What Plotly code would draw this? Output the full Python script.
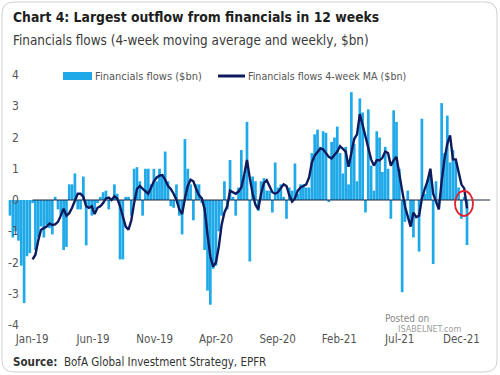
import pandas as pd
import plotly.graph_objects as go

# ---------------- data ----------------
flows = [
    -0.5, -1.2, -1.0, -1.3, -2.1, -3.3, -1.8, -1.7, -0.1, -1.6,
    -1.2, -0.85, -1.2, -0.8, -0.9, -1.1, 0.1, -0.3, -0.5, -1.6,
    -1.5, 0.5, 0.5, 0.85, -0.3, -0.3, 0.75, -1.45, -0.2, -0.5,
    -0.3, -0.1, 0.1, 0.25, 0.3, -0.3, 0.0, 0.5, 0.2, -1.9,
    -1.9, 0.1, 0.1, -0.5, 1.0, 1.05, 0.6, -0.5, 1.0, 1.0,
    0.5, 1.0, 0.6, 1.0, 0.8, 1.55, 0.6, -0.2, -0.25, 0.5,
    -0.5, -1.1, 1.95, 1.0, 0.5, -0.65, 0.5, 0.5, -0.1, -1.6,
    -2.9, -3.35, -2.2, -2.1, -1.0, -0.5, 0.6, -0.3, 1.28, 0.1,
    -0.5, 0.4, 1.6, 0.8, 2.5, -1.97, 0.75, 0.6, -0.35, 0.6,
    0.7, 0.3, 0.3, -0.4, 1.2, 0.4, 0.5, 0.1, -0.6, 0.4,
    0.3, 1.17, 0.2, 0.5, 0.5, 0.4, 0.4, 1.5, 2.1, 2.25,
    1.7, 2.2, 2.15, -0.05, 1.86, 2.0, 2.35, 1.5, 0.85, 1.7,
    0.5, 3.45, 1.8, 0.6, 3.25, 2.8, -0.4, 2.9, 1.1, 0.3,
    2.2, 2.0, 0.9, 1.7, 1.0, -0.6, 2.87, 2.5, 1.0, -2.95,
    -0.7, 0.3, -0.75, -1.2, 0.0, -1.65, 2.6, 0.2, 0.65, 0.95,
    -2.05, 0.6, -0.3, 3.1, 1.5, 2.7, 1.2, 1.6, 1.3, 0.4,
    -0.6, 0.1, -1.44,
]

ma_4wk = [None] * 8 + [
    -1.9, -1.75, -1.3, -0.95, -0.9, -0.85, -0.75, -0.8, -0.78, -0.7,
    -0.5, -0.28, -0.5, -0.42, -0.25, 0.0, 0.2, 0.2, 0.1, -0.2,
    -0.25, -0.2, -0.45, -0.25, -0.2, -0.1, 0.05, 0.08, 0.0, 0.12,
    0.05, -0.2, -0.5, -0.85, -0.95, -0.65, -0.1, 0.35, 0.45, 0.35,
    0.28, 0.2, 0.4, 0.6, 0.72, 0.78, 0.8, 0.65, 0.45, 0.35,
    0.2, 0.0, -0.3, -0.45, 0.05, 0.45, 0.65, 0.6, 0.35, 0.15,
    0.05, -0.3, -1.1, -1.8, -2.13, -2.0, -1.5, -0.8, -0.4, -0.2,
    0.3, 0.25, 0.2, 0.27, 0.4, 0.8, 1.28, 0.7, 0.2, -0.15,
    -0.3, 0.2, 0.55, 0.63, 0.45, 0.25, 0.2, 0.25, 0.38, 0.5,
    0.45, 0.15, -0.05, 0.05, 0.3, 0.4, 0.45, 0.5, 0.72, 1.2,
    1.42, 1.55, 1.65, 1.62, 1.5, 1.38, 1.33, 1.45, 1.55, 1.72,
    1.65, 1.55, 1.06, 1.5, 1.95, 2.1, 2.75, 2.4, 2.0, 1.6,
    1.3, 1.1, 1.27, 1.27, 1.35, 1.55, 1.5, 1.1, 1.27, 1.38,
    0.9, 0.3, -0.2, -0.55, -0.85, -0.4, -0.55, -0.5, 0.05, 0.35,
    0.6, 1.0, 0.2, -0.05, -0.3, 0.6, 1.3, 1.8, 2.07, 1.3,
    1.3, 0.9, 0.5, 0.37, -0.27,
]

dates = pd.date_range("2018-11-07", periods=len(flows), freq="7D")

x_tick_dates = ["2019-01-01", "2019-06-01", "2019-11-01", "2020-04-01",
                "2020-09-01", "2021-02-01", "2021-07-01", "2021-12-01"]
x_tick_labels = ["Jan-19", "Jun-19", "Nov-19", "Apr-20",
                 "Sep-20", "Feb-21", "Jul-21", "Dec-21"]
y_ticks = [4, 3, 2, 1, 0, -1, -2, -3, -4]

# ---------------- layout helpers ----------------
W, H = 500, 375
L, R, T, B = 8, 10, 75, 50
X_RANGE = ["2018-11-02", "2022-02-10"]

def px(x):
    return (x - L) / (W - L - R)

def py(y):
    return (H - B - y) / (H - T - B)

FONT = "'DejaVu Sans Condensed', 'Liberation Sans Narrow', sans-serif"
BAR_COLOR = "#1FA9E8"
LINE_COLOR = "#0D1B5E"
GREY = "#555555"

fig = go.Figure()
fig.add_bar(x=dates, y=flows, marker_color=BAR_COLOR, marker_line_width=0,
            name="Financials flows ($bn)")
fig.add_scatter(x=dates, y=ma_4wk, mode="lines",
                line=dict(color=LINE_COLOR, width=2.4),
                name="Financials flows 4-week MA ($bn)")

shapes = []
# zero line
shapes.append(dict(type="line", xref="x", yref="y", x0=dates[8], x1=X_RANGE[1],
                   y0=0, y1=0, line=dict(color="#1B2444", width=1.2), layer="above"))
# red circle highlight
shapes.append(dict(type="circle", xref="paper", yref="paper",
                   x0=px(455), x1=px(473), y0=py(216), y1=py(191),
                   line=dict(color="#E3202B", width=1.8), layer="above"))
# legend marks
shapes.append(dict(type="rect", xref="paper", yref="paper",
                   x0=px(63), x1=px(92), y0=py(80), y1=py(72),
                   fillcolor=BAR_COLOR, line=dict(width=0), layer="above"))
shapes.append(dict(type="line", xref="paper", yref="paper",
                   x0=px(218), x1=px(245), y0=py(76), y1=py(76),
                   line=dict(color=LINE_COLOR, width=3), layer="above"))
# rounded frame
r = 12
x0f, x1f, y0f, y1f = 2, 497, 2, 372
pts = [
    ("M", x0f + r, y0f), ("L", x1f - r, y0f), ("Q", x1f, y0f, x1f, y0f + r),
    ("L", x1f, y1f - r), ("Q", x1f, y1f, x1f - r, y1f), ("L", x0f + r, y1f),
    ("Q", x0f, y1f, x0f, y1f - r), ("L", x0f, y0f + r), ("Q", x0f, y0f, x0f + r, y0f),
]
path = ""
for p in pts:
    cmd = p[0]
    coords = p[1:]
    seg = []
    for i in range(0, len(coords), 2):
        seg.append(f"{px(coords[i]):.5f},{py(coords[i+1]):.5f}")
    path += cmd + " ".join(seg) + " "
path += "Z"
shapes.append(dict(type="path", xref="paper", yref="paper", path=path,
                   line=dict(color="#D0D0D0", width=1), layer="below"))

annotations = []
for v in y_ticks:
    annotations.append(dict(text=str(v), xref="paper", yref="y", x=px(21), y=v,
                            xanchor="right", yanchor="middle", showarrow=False,
                            font=dict(family=FONT, size=12, color=GREY)))
annotations += [
    dict(text="<b>Chart 4: Largest outflow from financials in 12 weeks</b>",
         xref="paper", yref="paper", x=px(11), y=py(17), xanchor="left", yanchor="middle",
         showarrow=False, font=dict(family=FONT, size=13.8, color="#1E1E1E")),
    dict(text="Financials flows (4-week moving average and weekly, $bn)",
         xref="paper", yref="paper", x=px(11), y=py(40), xanchor="left", yanchor="middle",
         showarrow=False, font=dict(family=FONT, size=13.4, color="#3A3A3A")),
    dict(text="Financials flows ($bn)", xref="paper", yref="paper", x=px(93), y=py(76),
         xanchor="left", yanchor="middle", showarrow=False,
         font=dict(family=FONT, size=11, color=GREY)),
    dict(text="Financials flows 4-week MA ($bn)", xref="paper", yref="paper",
         x=px(246), y=py(76), xanchor="left", yanchor="middle", showarrow=False,
         font=dict(family=FONT, size=10.6, color=GREY)),
    dict(text="<b>Source:</b>  BofA Global Investment Strategy, EPFR",
         xref="paper", yref="paper", x=px(11), y=py(362), xanchor="left", yanchor="middle",
         showarrow=False, font=dict(family=FONT, size=11.5, color="#333333")),
    dict(text="Posted on", xref="paper", yref="paper", x=px(383), y=py(318),
         xanchor="left", yanchor="middle", showarrow=False,
         font=dict(family=FONT, size=10, color="#8A8A8A")),
    dict(text="ISABELNET.com", xref="paper", yref="paper", x=px(396), y=py(329),
         xanchor="left", yanchor="middle", showarrow=False,
         font=dict(family=FONT, size=9, color="#A0A0A0")),
]

fig.update_layout(
    width=W, height=H,
    margin=dict(l=L, r=R, t=T, b=B),
    paper_bgcolor="white", plot_bgcolor="white",
    showlegend=False, bargap=0.04,
    font=dict(family=FONT),
    shapes=shapes, annotations=annotations,
    xaxis=dict(range=X_RANGE, tickvals=x_tick_dates, ticktext=x_tick_labels,
               showgrid=False, zeroline=False, showline=False, ticks="",
               ticklabelstandoff=5,
               tickfont=dict(family=FONT, size=11.5, color=GREY)),
    yaxis=dict(range=[-4, 4], showticklabels=False, showgrid=False,
               zeroline=False, showline=False, ticks=""),
)

fig.write_html("out.html", config={"displayModeBar": False},
               post_script="document.body.style.margin='0';document.body.style.overflow='hidden';")
